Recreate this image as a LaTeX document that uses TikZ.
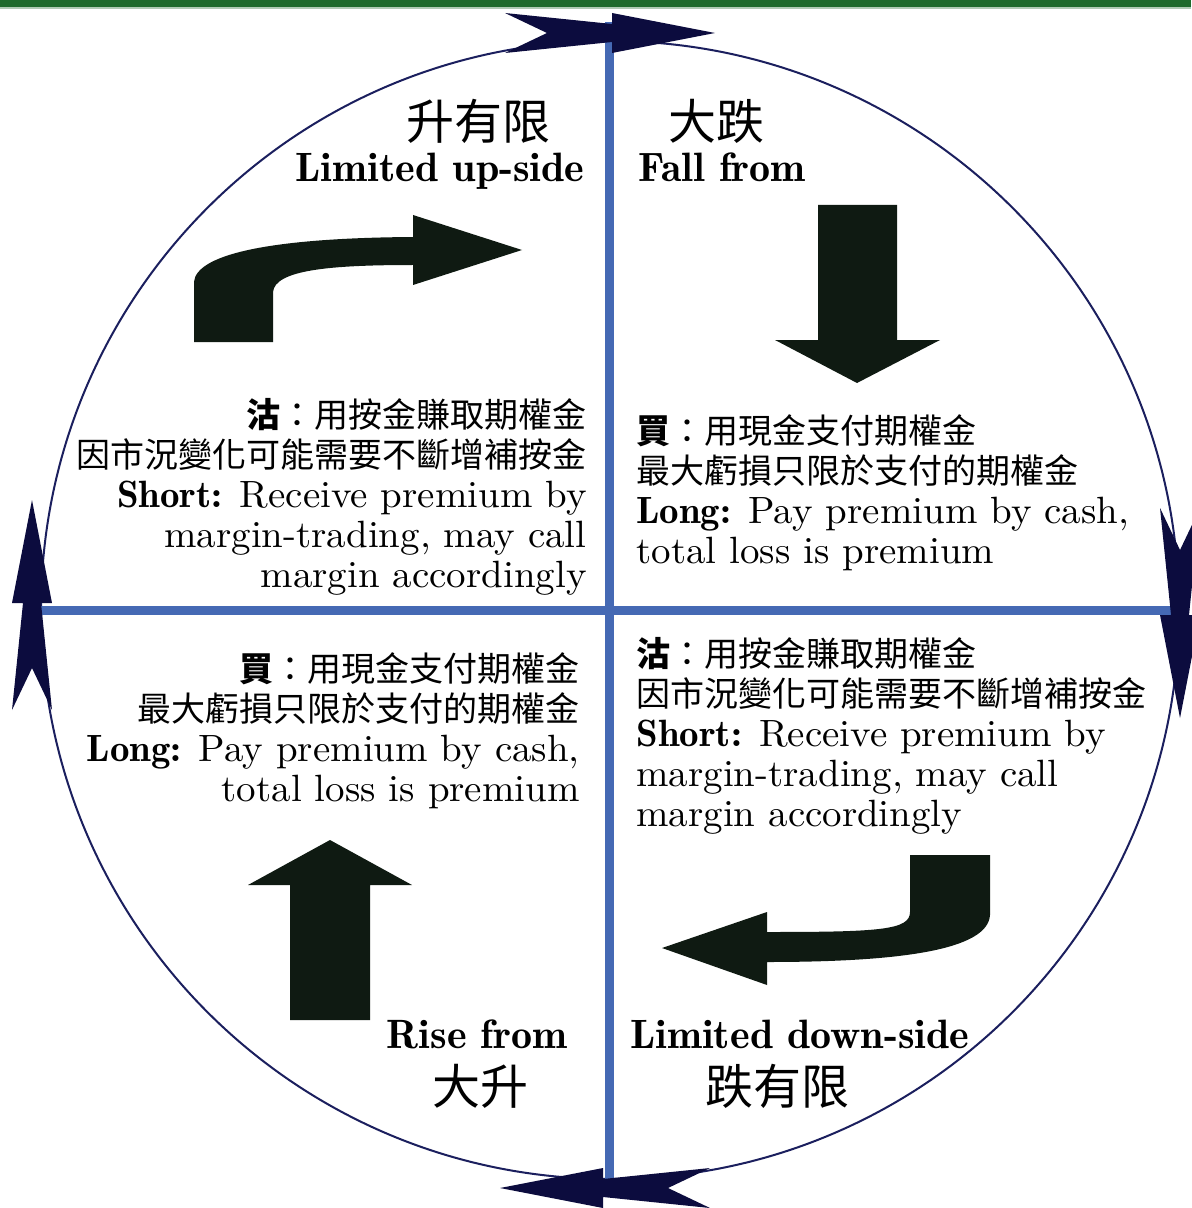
\documentclass[tikz,border=0pt]{standalone}
\usepackage{fontspec}
\setmainfont{lmroman10-regular.otf}[FakeStretch=1.025,
  BoldFont=lmromandemi10-regular.otf]
\newfontfamily\cjk{Noto Sans CJK TC}
\usetikzlibrary{positioning}
\definecolor{bandgreen}{HTML}{1E6A2C}
\definecolor{axisblue}{HTML}{4569B4}
\definecolor{ringnavy}{HTML}{1B1F5E}
\definecolor{headnavy}{HTML}{0C0C3E}
\definecolor{arrowblack}{HTML}{0F1A12}
% chinese body line
\newcommand\zhline[1]{{\cjk\fontsize{17}{20}\selectfont #1}}
% arrow head sitting on the ring
\newcommand\cyclehead[3]{\fill[headnavy, shift={(#1,#2)}, rotate=#3]
  (0,0) -- (-103,20) -- (-103,9) -- (-210,20) -- (-168,0)
  -- (-210,-20) -- (-103,-9) -- (-103,-20) -- cycle;}

\begin{document}
\begin{tikzpicture}[x=0.5pt,y=-0.5pt,
  title/.style={inner sep=0pt, font=\cjk\fontsize{24}{26}\selectfont},
  subtitle/.style={inner sep=0pt, font=\fontsize{20.5}{22}\selectfont\bfseries},
  note/.style={inner sep=0pt, font=\fontsize{19}{20}\selectfont},
  bigarrow/.style={fill=arrowblack}]
\useasboundingbox (0,0) rectangle (1191,1208);

% green band on top
\fill[bandgreen] (0,0) rectangle (1191,7);
\fill[bandgreen!35] (0,7) rectangle (1191,9);

% ring and axes
\coordinate (o) at (610,610);
\draw[ringnavy, line width=1pt] (o) circle[radius=569];
\coordinate (axtop) at (609,22);
\coordinate (axbot) at (609,1182);
\coordinate (axleft) at (40,610);
\coordinate (axright) at (1176,610);
\draw[axisblue, line width=4.5pt] (axtop) -- (axbot);
\draw[axisblue, line width=4.5pt] (axleft) -- (axright);

% clockwise heads
\cyclehead{715}{33}{0}
\cyclehead{1180}{718}{-90}
\cyclehead{500}{1188}{180}
\cyclehead{32}{500}{90}

% upper left: limited up-side
\node[title, anchor=base] (q1title) at (478,140) {升有限};
\node[subtitle, anchor=base east] (q1sub) at (585,182) {Limited up-side};
\fill[bigarrow] (194,342) -- (194,282) .. controls (196,256) and (262,238) .. (413,237)
  -- (413,215) -- (522,250) -- (413,285) -- (413,265)
  .. controls (330,265) and (275,270) .. (273,292) -- (273,342) -- cycle;
\node[note, align=right, anchor=north east] (q1text) at (587,398) {
  \zhline{{\bfseries 沽}：用按金賺取期權金}\\
  \zhline{因市況變化可能需要不斷增補按金}\\
  \textbf{Short:} Receive premium by\\
  margin-trading, may call\\
  margin accordingly};

% upper right: fall from
\node[title, anchor=base west] (q2title) at (668,140) {大跌};
\node[subtitle, anchor=base west] (q2sub) at (638,182) {Fall from};
\fill[bigarrow] (818,205) -- (897,205) -- (897,340) -- (940,340) -- (857,383)
  -- (775,340) -- (818,340) -- cycle;
\node[note, align=left, anchor=north west] (q2text) at (636,414) {
  \zhline{{\bfseries 買}：用現金支付期權金}\\
  \zhline{最大虧損只限於支付的期權金}\\
  \textbf{Long:} Pay premium by cash,\\
  total loss is premium};

% lower left: rise from
\node[note, align=right, anchor=north east] (q3text) at (580,652) {
  \zhline{{\bfseries 買}：用現金支付期權金}\\
  \zhline{最大虧損只限於支付的期權金}\\
  \textbf{Long:} Pay premium by cash,\\
  total loss is premium};
\fill[bigarrow] (290,1020) -- (370,1020) -- (370,885) -- (412,885) -- (330,840)
  -- (248,885) -- (290,885) -- cycle;
\node[subtitle, anchor=base east] (q3sub) at (568,1048) {Rise from};
\node[title, anchor=base] (q3title) at (480,1104) {大升};

% lower right: limited down-side
\node[note, align=left, anchor=north west] (q4text) at (636,637) {
  \zhline{{\bfseries 沽}：用按金賺取期權金}\\
  \zhline{因市況變化可能需要不斷增補按金}\\
  \textbf{Short:} Receive premium by\\
  margin-trading, may call\\
  margin accordingly};
\fill[bigarrow] (910,855) -- (990,855) -- (990,915)
  .. controls (988,950) and (900,962) .. (767,962)
  -- (767,985) -- (662,948) -- (767,912) -- (767,932)
  .. controls (880,932) and (910,930) .. (910,912) -- cycle;
\node[subtitle, anchor=base west] (q4sub) at (630,1048) {Limited down-side};
\node[title, anchor=base west] (q4title) at (705,1104) {跌有限};
\end{tikzpicture}
\end{document}
